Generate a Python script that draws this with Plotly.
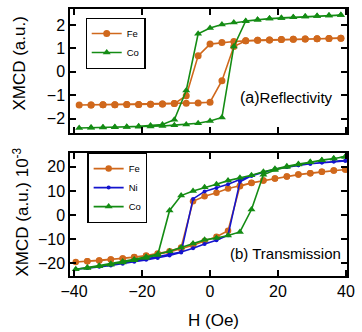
import plotly.graph_objects as go

# ---------------- data ----------------
# (a) Reflectivity : field grid, loops traced as descending branch then ascending branch
H_a = [38.5, 35, 31.5, 28, 24.5, 21, 17.5, 14, 10.5, 7, 3.5, 0, -3.5, -7, -10.5, -14, -17.5, -21, -24.5, -28, -31.5, -35, -38.5,
       -35, -31.5, -28, -24.5, -21, -17.5, -14, -10.5, -7, -3.5, 0, 3.5, 7, 10.5, 14, 17.5, 21, 24.5, 28, 31.5, 35, 38.5]
Fe_a = [1.43, 1.42, 1.41, 1.40, 1.39, 1.38, 1.36, 1.35, 1.32, 1.29, 1.25, 1.18, 0.68, -1.02, -1.36, -1.38, -1.39, -1.40, -1.40, -1.41, -1.41, -1.42, -1.42,
        -1.42, -1.41, -1.41, -1.40, -1.40, -1.39, -1.38, -1.36, -1.35, -1.33, -1.30, -0.38, 1.08, 1.32, 1.35, 1.36, 1.38, 1.39, 1.40, 1.41, 1.42, 1.43]
Co_a = [2.42, 2.40, 2.38, 2.36, 2.33, 2.30, 2.27, 2.22, 2.16, 2.10, 2.02, 1.87, 1.62, -0.80, -2.05, -2.25, -2.30, -2.33, -2.35, -2.36, -2.37, -2.38, -2.40,
        -2.39, -2.38, -2.37, -2.36, -2.35, -2.34, -2.32, -2.28, -2.25, -2.20, -2.10, -1.95, 1.08, 2.17, 2.22, 2.27, 2.30, 2.33, 2.36, 2.38, 2.40, 2.42]

# (b) Transmission
H_b = [39.8, 36.4, 32.9, 29.5, 26.0, 22.6, 19.1, 15.7, 12.2, 8.8, 5.3, 1.9, -1.6, -5.0, -8.5, -11.9, -15.4, -18.8, -22.3, -25.7, -29.2, -32.6, -36.1, -39.5,
       -36.1, -32.6, -29.2, -25.7, -22.3, -18.8, -15.4, -11.9, -8.5, -5.0, -1.6, 1.9, 5.3, 8.8, 12.2, 15.7, 19.1, 22.6, 26.0, 29.5, 32.9, 36.4, 39.8]
Fe_b = [18.9, 18.5, 18.0, 17.4, 16.8, 16.0, 15.2, 14.3, 13.4, 12.2, 11.0, 9.3, 7.8, 5.7, -13.5, -15.0, -16.0, -16.8, -17.4, -18.0, -18.5, -18.9, -19.2, -19.5,
        -19.2, -18.9, -18.5, -18.0, -17.5, -17.0, -16.3, -15.3, -14.0, -12.5, -10.8, -9.0, -6.5, 12.0, 13.3, 14.3, 15.2, 16.0, 16.8, 17.4, 18.0, 18.5, 18.9]
Ni_b = [22.5, 22.2, 21.8, 21.3, 20.7, 19.9, 19.0, 17.8, 16.3, 14.8, 12.8, 11.2, 9.8, 6.7, -15.5, -16.8, -17.8, -18.6, -19.4, -20.2, -20.9, -21.5, -22.0, -22.5,
        -22.0, -21.3, -20.6, -19.8, -19.0, -18.2, -17.3, -16.3, -15.3, -13.8, -12.0, -10.5, -8.4, 13.8, 16.3, 17.8, 19.0, 19.9, 20.7, 21.3, 21.8, 22.2, 22.5]
Co_b = [24.2, 23.5, 22.8, 22.0, 21.2, 20.3, 19.2, 18.0, 16.5, 15.5, 14.3, 12.8, 11.5, 10.0, 8.1, 1.9, -16.6, -17.8, -18.8, -19.7, -20.6, -21.3, -22.0, -22.5,
        -21.8, -21.0, -20.2, -19.3, -18.4, -17.3, -16.3, -15.0, -13.5, -11.8, -10.3, -9.5, -8.5, -7.0, 2.3, 16.7, 18.7, 20.0, 21.0, 22.0, 22.8, 23.5, 24.2]

x_ticks = [-40, -20, 0, 20, 40]
ya_ticks = [-2, -1, 0, 1, 2]
yb_ticks = [-20, -10, 0, 10, 20]

FE = "rgb(208,104,28)"
CO = "rgb(20,140,20)"
NI = "rgb(20,20,205)"
FONT = "Liberation Sans, Arial, Helvetica, sans-serif"

fig = go.Figure()
fig.add_trace(go.Scatter(x=H_a, y=Fe_a, name="Fe", mode="lines+markers", xaxis="x", yaxis="y",
                         line=dict(color=FE, width=1.6), marker=dict(symbol="circle", size=7, color=FE), legend="legend"))
fig.add_trace(go.Scatter(x=H_a, y=Co_a, name="Co", mode="lines+markers", xaxis="x", yaxis="y",
                         line=dict(color=CO, width=1.6), marker=dict(symbol="triangle-up", size=7, color=CO), legend="legend"))
fig.add_trace(go.Scatter(x=H_b, y=Fe_b, name="Fe", mode="lines+markers", xaxis="x2", yaxis="y2",
                         line=dict(color=FE, width=1.6), marker=dict(symbol="circle", size=6.5, color=FE), legend="legend2"))
fig.add_trace(go.Scatter(x=H_b, y=Ni_b, name="Ni", mode="lines+markers", xaxis="x2", yaxis="y2",
                         line=dict(color=NI, width=1.6), marker=dict(symbol="circle", size=4, color=NI), legend="legend2"))
fig.add_trace(go.Scatter(x=H_b, y=Co_b, name="Co", mode="lines+markers", xaxis="x2", yaxis="y2",
                         line=dict(color=CO, width=1.6), marker=dict(symbol="triangle-up", size=7, color=CO), legend="legend2"))

axis_common = dict(showline=True, linecolor="black", linewidth=1.5, mirror="ticks", ticks="inside",
                   ticklen=6, tickwidth=1.5, tickcolor="black", showgrid=False, zeroline=False,
                   tickfont=dict(size=16, color="black", family=FONT))

fig.update_layout(
    width=362, height=332, margin=dict(l=70, r=8, t=7, b=56),
    paper_bgcolor="white", plot_bgcolor="white",
    font=dict(family=FONT, color="black"),
    xaxis=dict(domain=[0, 1], range=[-41.2, 40.3], tickvals=x_ticks, showticklabels=False, anchor="y", **axis_common),
    yaxis=dict(domain=[0.537, 1], range=[-2.6, 2.68], tickvals=ya_ticks, anchor="x", **axis_common),
    xaxis2=dict(domain=[0, 1], range=[-41.2, 40.3], tickvals=x_ticks, anchor="y2", matches="x", **axis_common),
    yaxis2=dict(domain=[0, 0.461], range=[-25.3, 25.8], tickvals=yb_ticks, anchor="x2", **axis_common),
    legend=dict(x=0.056, y=0.967, xanchor="left", yanchor="top", bordercolor="black", borderwidth=1.2,
                bgcolor="white", font=dict(size=9.5, family=FONT), itemwidth=30, tracegroupgap=0),
    legend2=dict(x=0.063, y=0.461, xanchor="left", yanchor="top", bordercolor="black", borderwidth=1.2,
                 bgcolor="white", font=dict(size=9.5, family=FONT), itemwidth=30, tracegroupgap=0),
    showlegend=True,
    annotations=[
        dict(text="<span style='font-size:16px'>(a)</span>Reflectivity", x=22.6, y=-1.08, xref="x", yref="y",
             showarrow=False, font=dict(size=15, family=FONT)),
        dict(text="(b) Transmission", x=22.2, y=-16.0, xref="x2", yref="y2",
             showarrow=False, font=dict(size=15, family=FONT)),
        dict(text="XMCD (a.u.)", x=0, xref="paper", xshift=-50, y=(276 - 62) / 269, yref="paper",
             xanchor="center", yanchor="middle",
             textangle=-90, showarrow=False, font=dict(size=17, family=FONT)),
        dict(text="XMCD (a.u.) 10<sup>-3</sup>", x=0, xref="paper", xshift=-49, y=(276 - 212) / 269, yref="paper",
             xanchor="center", yanchor="middle",
             textangle=-90, showarrow=False, font=dict(size=17, family=FONT)),
        dict(text="H (Oe)", x=1, xref="x2", y=0, yref="paper", yshift=-44, yanchor="middle",
             showarrow=False, font=dict(size=17, family=FONT)),
    ],
)

fig.write_html("out.html")
